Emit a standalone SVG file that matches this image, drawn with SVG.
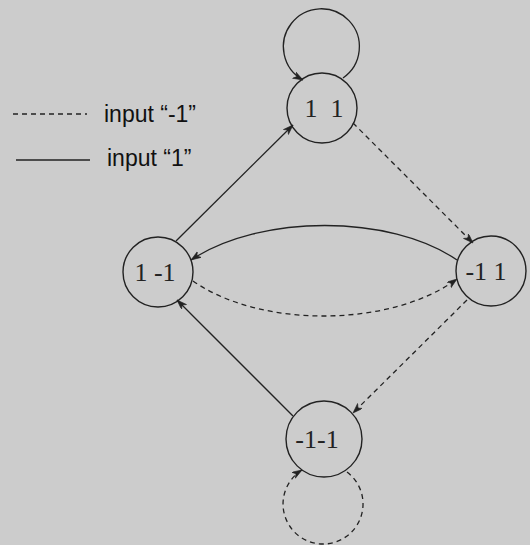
<svg xmlns="http://www.w3.org/2000/svg" width="530" height="545" viewBox="0 0 530 545">
<defs>
<marker id="arr" markerUnits="userSpaceOnUse" markerWidth="12" markerHeight="8" refX="10" refY="3.5" orient="auto">
<path d="M0,0 L10,3.5 L0,7 L3,3.5 z" fill="#222" stroke="#222" stroke-width="0.6" stroke-dasharray="none"/>
</marker>
</defs>
<style>
.node{fill:none;stroke:#222;stroke-width:1.4}
.lbl{font-family:"Liberation Serif","Times New Roman",serif;font-size:26px;fill:#222;text-anchor:middle;white-space:pre}
.edge{fill:none;stroke:#222;stroke-width:1.3}
.dash{stroke-dasharray:5,4}
.leg{font-family:"Liberation Sans",Arial,sans-serif;font-size:23px;fill:#111}
</style>
<rect x="0" y="0" width="530" height="545" fill="#cccccc"/>
<g id="legend">
<line class="edge dash" x1="13" y1="114" x2="87" y2="114"/>
<text class="leg" x="104" y="122">input “-1”</text>
<line class="edge" x1="16" y1="160" x2="90" y2="160"/>
<text class="leg" x="107" y="166">input “1”</text>
</g>
<g id="n11">
<circle class="node" cx="322" cy="108" r="35"/>
<text class="lbl" x="324" y="117" xml:space="preserve">1  1</text>
</g>
<g id="n1m1">
<circle class="node" cx="158" cy="272" r="35"/>
<text class="lbl" x="155" y="281">1 -1</text>
</g>
<g id="nm11">
<circle class="node" cx="491" cy="271" r="35"/>
<text class="lbl" x="486" y="280">-1 1</text>
</g>
<g id="nm1m1">
<circle class="node" cx="324" cy="439" r="38"/>
<text class="lbl" x="317" y="448">-1-1</text>
</g>
<g id="connectors">
<path class="edge" d="M343,78 A38,38 0 1 0 303,80" marker-end="url(#arr)"/>
<path class="edge dash" d="M347,472 A40,40 0 1 1 302,470" marker-end="url(#arr)"/>
<path class="edge" d="M176,241 L293,125" marker-end="url(#arr)"/>
<path class="edge dash" d="M353,123 L473,243" marker-end="url(#arr)"/>
<path class="edge dash" d="M467,300 L353,413" marker-end="url(#arr)"/>
<path class="edge" d="M293,416 L177,300" marker-end="url(#arr)"/>
<path class="edge" d="M457,260 C390,214 260,214 191,260" marker-end="url(#arr)"/>
<path class="edge dash" d="M193,281 C260,328 390,328 457,279" marker-end="url(#arr)"/>
</g>
</svg>
